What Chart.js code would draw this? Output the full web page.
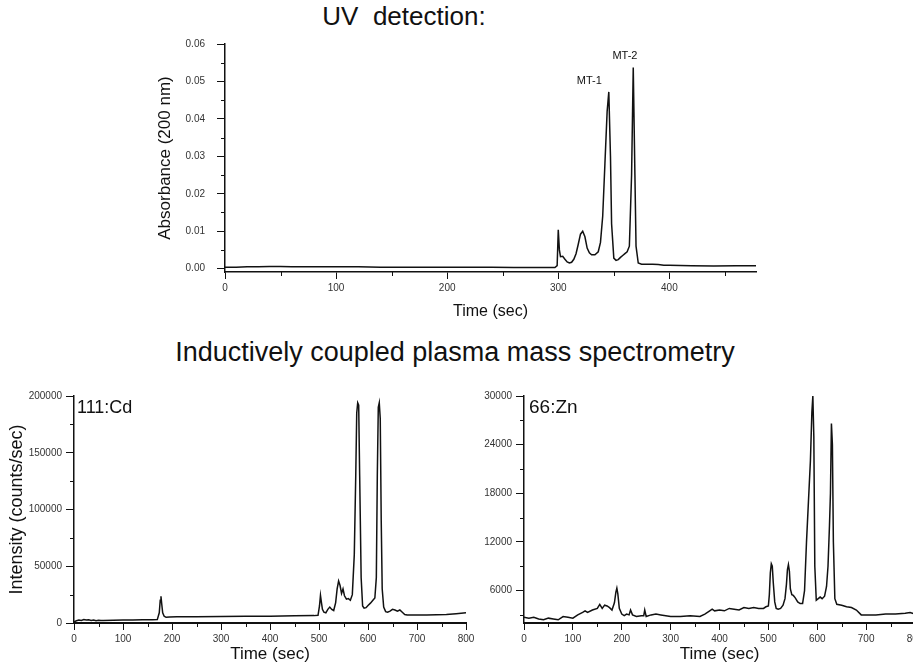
<!DOCTYPE html>
<html>
<head>
<meta charset="utf-8">
<script src="https://cdn.jsdelivr.net/npm/chart.js@4.4.1/dist/chart.umd.min.js"></script>
<style>
  html, body { margin:0; padding:0; width:913px; height:668px; overflow:hidden; background:#fff; }
  canvas { position:absolute; }
  .ttl { position:absolute; font-family:"Liberation Sans", Arial, sans-serif; color:#111; white-space:pre; transform:translate(-50%,-50%); }
</style>
</head>
<body>
<div class="ttl" style="left:404px; top:16px; font-size:26px;">UV  detection:</div>
<div class="ttl" style="left:455px; top:352px; font-size:27px;">Inductively coupled plasma mass spectrometry</div>
<canvas id="uv" width="763" height="330" style="left:150px; top:0px;"></canvas>
<canvas id="cd" width="500" height="288" style="left:0px; top:380px;"></canvas>
<canvas id="zn" width="480" height="288" style="left:470px; top:380px;"></canvas>
<script>
// ---------- DATA ----------
const uvTime = [0,10,20,30,40,50,60,80,100,120,140,160,180,200,220,240,260,280,290,297,299,300,301,302,304,306,308,310,312,314,316,318,320,322,324,326,328,330,333,336,338,340,342,344,345.5,347,348,350,352,354,356,358,360,362,364,366,367.5,369,370,372,375,380,385,390,395,400,420,440,460,478];
const uvAbs  = [0.0004,0.0004,0.0005,0.0005,0.0006,0.0006,0.0005,0.0005,0.0005,0.0005,0.0004,0.0004,0.0004,0.0004,0.0004,0.0004,0.0003,0.0003,0.0003,0.0003,0.0008,0.0104,0.005,0.0032,0.0033,0.0025,0.0018,0.0015,0.0017,0.0025,0.004,0.0065,0.0092,0.0100,0.0085,0.0055,0.0042,0.0037,0.0037,0.0045,0.007,0.014,0.028,0.042,0.0472,0.030,0.012,0.0028,0.0022,0.0024,0.003,0.0035,0.004,0.0045,0.006,0.025,0.0537,0.025,0.006,0.0015,0.0012,0.0012,0.0012,0.0011,0.0009,0.0009,0.0008,0.0007,0.0008,0.0008];
const uvTicksX = [0,100,200,300,400];
const uvTicksY = [0,0.01,0.02,0.03,0.04,0.05,0.06];
const uvPeakLabels = ["MT-1","MT-2"];
const uvPeakLabelX = [328,360];
const uvPeakLabelY = [0.050,0.0568];

const cdTime = [0,5,10,15,20,25,30,35,40,45,50,55,60,80,100,120,140,160,170,174,176,177.5,179,181,184,188,195,210,250,300,350,400,450,490,498,501,503,505,507,510,514,518,522,526,530,534,537,540,543,546,549,552,556,560,564,568,572,575,577,579,581,583,586,589,592,596,600,605,610,614,617,619,621,623,625,627,629,632,636,640,645,650,655,660,665,670,675,680,700,720,740,760,780,800];
const cdCounts = [1000,2000,2600,2200,3000,2600,2800,2300,2700,2000,2400,2200,2300,2500,2600,2700,2800,2800,3000,9000,20000,23500,17000,9000,6000,5000,5200,5400,5600,5700,5900,6000,6300,6500,6800,15000,24400,18000,12000,9500,9000,12000,14000,12000,11000,18000,30000,37000,33000,26000,30000,24000,21000,21500,20000,25000,60000,130000,185000,194000,192000,130000,40000,15000,13000,13500,15500,17500,20000,22000,40000,130000,190000,194000,180000,90000,30000,14000,10000,9500,10500,12000,11500,10500,11500,9500,7500,7000,7000,7000,7200,7500,8200,9000];
const cdTicksY = [0,50000,100000,150000,200000];

const znTime = [0,10,20,30,40,50,60,70,80,90,100,110,120,125,130,140,150,155,160,165,170,175,180,185,188,190,192,195,200,205,210,215,218,222,230,240,245,247,250,260,270,280,300,320,340,360,370,380,385,390,400,410,420,430,440,450,460,470,480,490,495,500,502,504,506,508,510,513,516,520,525,530,534,537,539,541,543,545,548,551,555,560,565,570,574,578,582,586,589,591,593,595,598,602,606,610,615,619,622,625,627,629,631,633,636,640,650,660,670,680,690,700,720,740,760,780,790,800];
const znCounts = [2700,2600,2700,2500,2400,2600,2500,2400,2800,2700,2600,3000,3300,3500,3300,3600,3800,4300,3800,4200,4100,3900,3600,4500,5800,6300,5600,3800,3100,2900,3100,3000,3600,3000,2800,2900,2900,3600,2800,3000,3100,3000,2800,2800,2900,2800,3100,3500,3700,3500,3600,3500,3800,3700,3600,3900,3800,3900,3800,3800,4000,4100,5500,8200,9300,9000,7000,4600,3800,3700,3800,4200,5000,6800,8600,9200,8400,6200,5500,5400,5100,4600,4400,4400,6000,12000,17000,22000,28000,30000,25000,9000,4800,5000,5200,5000,5300,6500,9000,14000,18000,26600,24000,12000,5000,4300,4200,4000,3900,3600,3000,3000,3000,3100,3100,3200,3300,3100];
const znTicksY = [6000,12000,18000,24000,30000];
const icpTicksX = [0,100,200,300,400,500,600,700,800];

// ---------- helpers ----------
const FONT = '"Liberation Sans", Arial, sans-serif';
const toPts = (xs, ys) => xs.map((x, i) => ({x, y: ys[i]}));

const extras = {
  id: 'extras',
  afterDraw(chart, args, o) {
    const ctx = chart.ctx, xs = chart.scales.x, ys = chart.scales.y, ca = chart.chartArea;
    ctx.save();
    ctx.strokeStyle = '#111'; ctx.lineWidth = 1;
    ctx.beginPath();
    for (let v = o.xMinor; v <= xs.max + 1e-9; v += o.xMinor * 2) {
      const p = Math.round(xs.getPixelForValue(v)) + 0.5;
      ctx.moveTo(p, ca.bottom); ctx.lineTo(p, ca.bottom + 4);
    }
    for (let v = o.yMinorStart; v <= ys.max + 1e-12; v += o.yMinor * 2) {
      const p = Math.round(ys.getPixelForValue(v)) + 0.5;
      ctx.moveTo(ca.left, p); ctx.lineTo(ca.left - 4, p);
    }
    ctx.stroke();
    ctx.fillStyle = '#111';
    (o.texts || []).forEach(t => {
      ctx.font = t.size + 'px ' + FONT;
      ctx.textAlign = t.align || 'center';
      ctx.textBaseline = 'middle';
      const px = t.data ? xs.getPixelForValue(t.x) : ca.left + t.dx;
      const py = t.data ? ys.getPixelForValue(t.y) : ca.top + t.dy;
      ctx.fillText(t.text, px, py);
    });
    ctx.restore();
  }
};

function makeChart(id, cfg) {
  return new Chart(document.getElementById(id), {
    type: 'line',
    data: { datasets: [{ data: toPts(cfg.xs, cfg.ys), borderColor: '#111', borderWidth: 1.5, pointRadius: 0, tension: 0, fill: false }] },
    options: {
      responsive: false, animation: false, devicePixelRatio: 1,
      layout: { padding: cfg.padding },
      plugins: { legend: { display: false }, tooltip: { enabled: false }, extras: cfg.extras },
      scales: {
        x: {
          type: 'linear', min: cfg.xMin, max: cfg.xMax,
          afterFit: s => { s.height = cfg.xH; },
          afterBuildTicks: s => { s.ticks = cfg.xTicks.map(v => ({value: v})); },
          border: { color: '#111', width: cfg.borderW || 1.5 },
          grid: { drawOnChartArea: false, tickLength: 7, tickColor: '#111', tickWidth: 1 },
          ticks: { color: '#333', font: { family: FONT, size: cfg.tickSize }, padding: 3, maxRotation: 0, callback: v => String(v) },
          title: { display: true, text: 'Time (sec)', color: '#111', font: { family: FONT, size: cfg.xTitleSize }, padding: { top: 0, bottom: cfg.xTitlePad } }
        },
        y: {
          type: 'linear', min: cfg.yMin, max: cfg.yMax,
          afterFit: s => { s.width = cfg.yW; },
          afterBuildTicks: s => { s.ticks = cfg.yTicks.map(v => ({value: v})); },
          border: { color: '#111', width: 1.5 },
          grid: { drawOnChartArea: false, tickLength: 8, tickColor: '#111', tickWidth: 1 },
          ticks: { color: '#333', font: { family: FONT, size: cfg.tickSize }, padding: cfg.yTickPad, callback: cfg.yFmt },
          title: { display: !!cfg.yTitle, text: cfg.yTitle || '', color: '#111', font: { family: FONT, size: cfg.yTitleSize || 16 }, padding: { top: cfg.yTitlePad || 0, bottom: 0 } }
        }
      }
    },
    plugins: [extras]
  });
}

makeChart('uv', {
  xs: uvTime, ys: uvAbs, xMin: 0, xMax: 478, yMin: -0.0009, yMax: 0.06,
  xTicks: uvTicksX, yTicks: uvTicksY,
  padding: { left: 0, right: 157, top: 44, bottom: 0 },
  xH: 58, yW: 75, tickSize: 10, yTickPad: 12,
  xTitleSize: 16, xTitlePad: 9, yTitle: 'Absorbance (200 nm)', yTitleSize: 17, yTitlePad: 5,
  yFmt: v => v.toFixed(2),
  extras: { xMinor: 50, yMinor: 0.005, yMinorStart: 0.005,
    texts: uvPeakLabels.map((t, i) => ({ text: t, data: true, x: uvPeakLabelX[i], y: uvPeakLabelY[i], size: 11 })) }
});

makeChart('cd', {
  xs: cdTime, ys: cdCounts, xMin: 0, xMax: 800, yMin: 0, yMax: 200000,
  xTicks: icpTicksX, yTicks: cdTicksY,
  padding: { left: 0, right: 34, top: 16, bottom: 0 },
  xH: 45, yW: 74, tickSize: 10, yTickPad: 4,
  xTitleSize: 17, xTitlePad: 3, yTitle: 'Intensity (counts/sec)', yTitleSize: 18, yTitlePad: 6,
  yFmt: v => String(v), borderW: 2,
  extras: { xMinor: 50, yMinor: 25000, yMinorStart: 25000,
    texts: [{ text: '111:Cd', dx: 3, dy: 12, size: 18, align: 'left' }] }
});

makeChart('zn', {
  xs: znTime, ys: znCounts, xMin: 0, xMax: 800, yMin: 2000, yMax: 30000,
  xTicks: icpTicksX, yTicks: znTicksY,
  padding: { left: 0, right: 35, top: 16, bottom: 0 },
  xH: 45, yW: 54, tickSize: 10, yTickPad: 4,
  xTitleSize: 17, xTitlePad: 3,
  yFmt: v => String(v), borderW: 2,
  extras: { xMinor: 50, yMinor: 3000, yMinorStart: 3000,
    texts: [{ text: '66:Zn', dx: 5, dy: 12, size: 19, align: 'left' }] }
});
</script>
</body>
</html>
